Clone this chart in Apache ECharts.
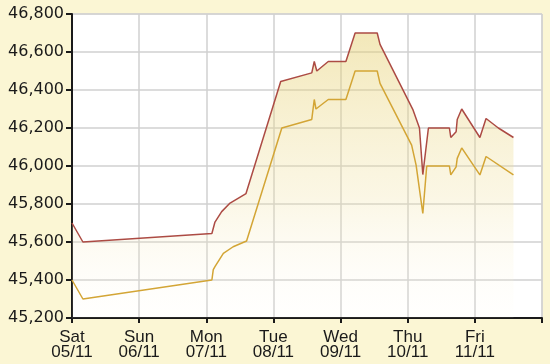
<!DOCTYPE html>
<html><head><meta charset="utf-8">
<script src="https://cdn.jsdelivr.net/npm/echarts@6/dist/echarts.min.js"></script>
<style>html,body{margin:0;padding:0;background:#fbf6d4}#c{width:550px;height:364px}</style>
</head><body><div id="c"></div>
<script>
// hours since Sat 05/11 00:00
const dayLabels = ['Sat\n05/11','Sun\n06/11','Mon\n07/11','Tue\n08/11','Wed\n09/11','Thu\n10/11','Fri\n11/11',''];
const yTicks = [45200,45400,45600,45800,46000,46200,46400,46600,46800];

const sellHours = [0,3.9,50,51.1,53.5,56.5,62.2,74.6,85.7,86.6,87.5,91.6,97.9,101.2,109.1,110.1,121.9,124.2,125.4,127.4,134.9,135.4,137.3,137.7,139.3,145.8,148.0,152.4,157.8];
const sellValues = [45700,45600,45645,45705,45760,45805,45855,46445,46490,46550,46500,46550,46550,46700,46700,46640,46295,46200,45955,46200,46200,46150,46180,46245,46300,46150,46250,46200,46150];

const buyHours = [0,3.9,50,50.5,51.1,54.1,57.6,62.4,75,85.7,86.6,87.2,91.6,97.9,101.2,109.1,110.1,121.4,123,125.4,126.8,134.9,135.4,137.3,137.7,139.3,145.8,148,157.8];
const buyValues = [45400,45300,45400,45455,45470,45540,45575,45605,46200,46245,46350,46300,46350,46350,46500,46500,46435,46110,46005,45750,46000,46000,45953,45995,46040,46095,45953,46050,45953];

const pair = (xs, ys) => xs.map((x, i) => [x, ys[i]]);
const chart = echarts.init(document.getElementById('c'), null, {renderer:'canvas'});
chart.setOption({
  backgroundColor: '#fbf6d4',
  animation: false,
  grid: {left:72, right:8, top:14, bottom:46, show:true, backgroundColor:'#ffffff', borderColor:'#cfcfcf', borderWidth:1},
  xAxis: {
    type:'value', min:0, max:168, interval:24,
    axisLine:{show:true, onZero:false, lineStyle:{color:'#1a1a1a', width:2}},
    axisTick:{show:true, length:5, lineStyle:{color:'#1a1a1a', width:2}},
    splitLine:{show:true, lineStyle:{color:'#d0d0d0', width:1.5}},
    axisLabel:{formatter:(v)=>dayLabels[Math.round(v/24)], color:'#1a1a1a', fontFamily:'Liberation Sans, Arial', fontSize:17, lineHeight:15, margin:12}
  },
  yAxis: {
    type:'value', min:yTicks[0], max:yTicks[yTicks.length-1], interval:200,
    axisLine:{show:true, lineStyle:{color:'#1a1a1a', width:2}},
    axisTick:{show:true, length:6, lineStyle:{color:'#1a1a1a', width:2}},
    splitLine:{show:true, lineStyle:{color:'#d0d0d0', width:1.5}},
    axisLabel:{formatter:(v)=>v.toLocaleString('en-US'), color:'#1a1a1a', fontFamily:'DejaVu Sans, Verdana', fontSize:16, margin:8}
  },
  series: [
    {type:'line', data:pair(sellHours, sellValues), showSymbol:false, symbol:'none',
     lineStyle:{color:'#ac4b44', width:1.5},
     areaStyle:{origin:'start', color:{type:'linear', x:0, y:14, x2:0, y2:318, global:true,
       colorStops:[{offset:0, color:'rgba(228,204,100,0.7)'},{offset:0.6, color:'rgba(240,225,160,0.4)'},{offset:1, color:'rgba(255,252,240,0.1)'}]}},
     z:3},
    {type:'line', data:pair(buyHours, buyValues), showSymbol:false, symbol:'none',
     lineStyle:{color:'#d3a535', width:1.5}, z:4}
  ]
});
</script></body></html>
